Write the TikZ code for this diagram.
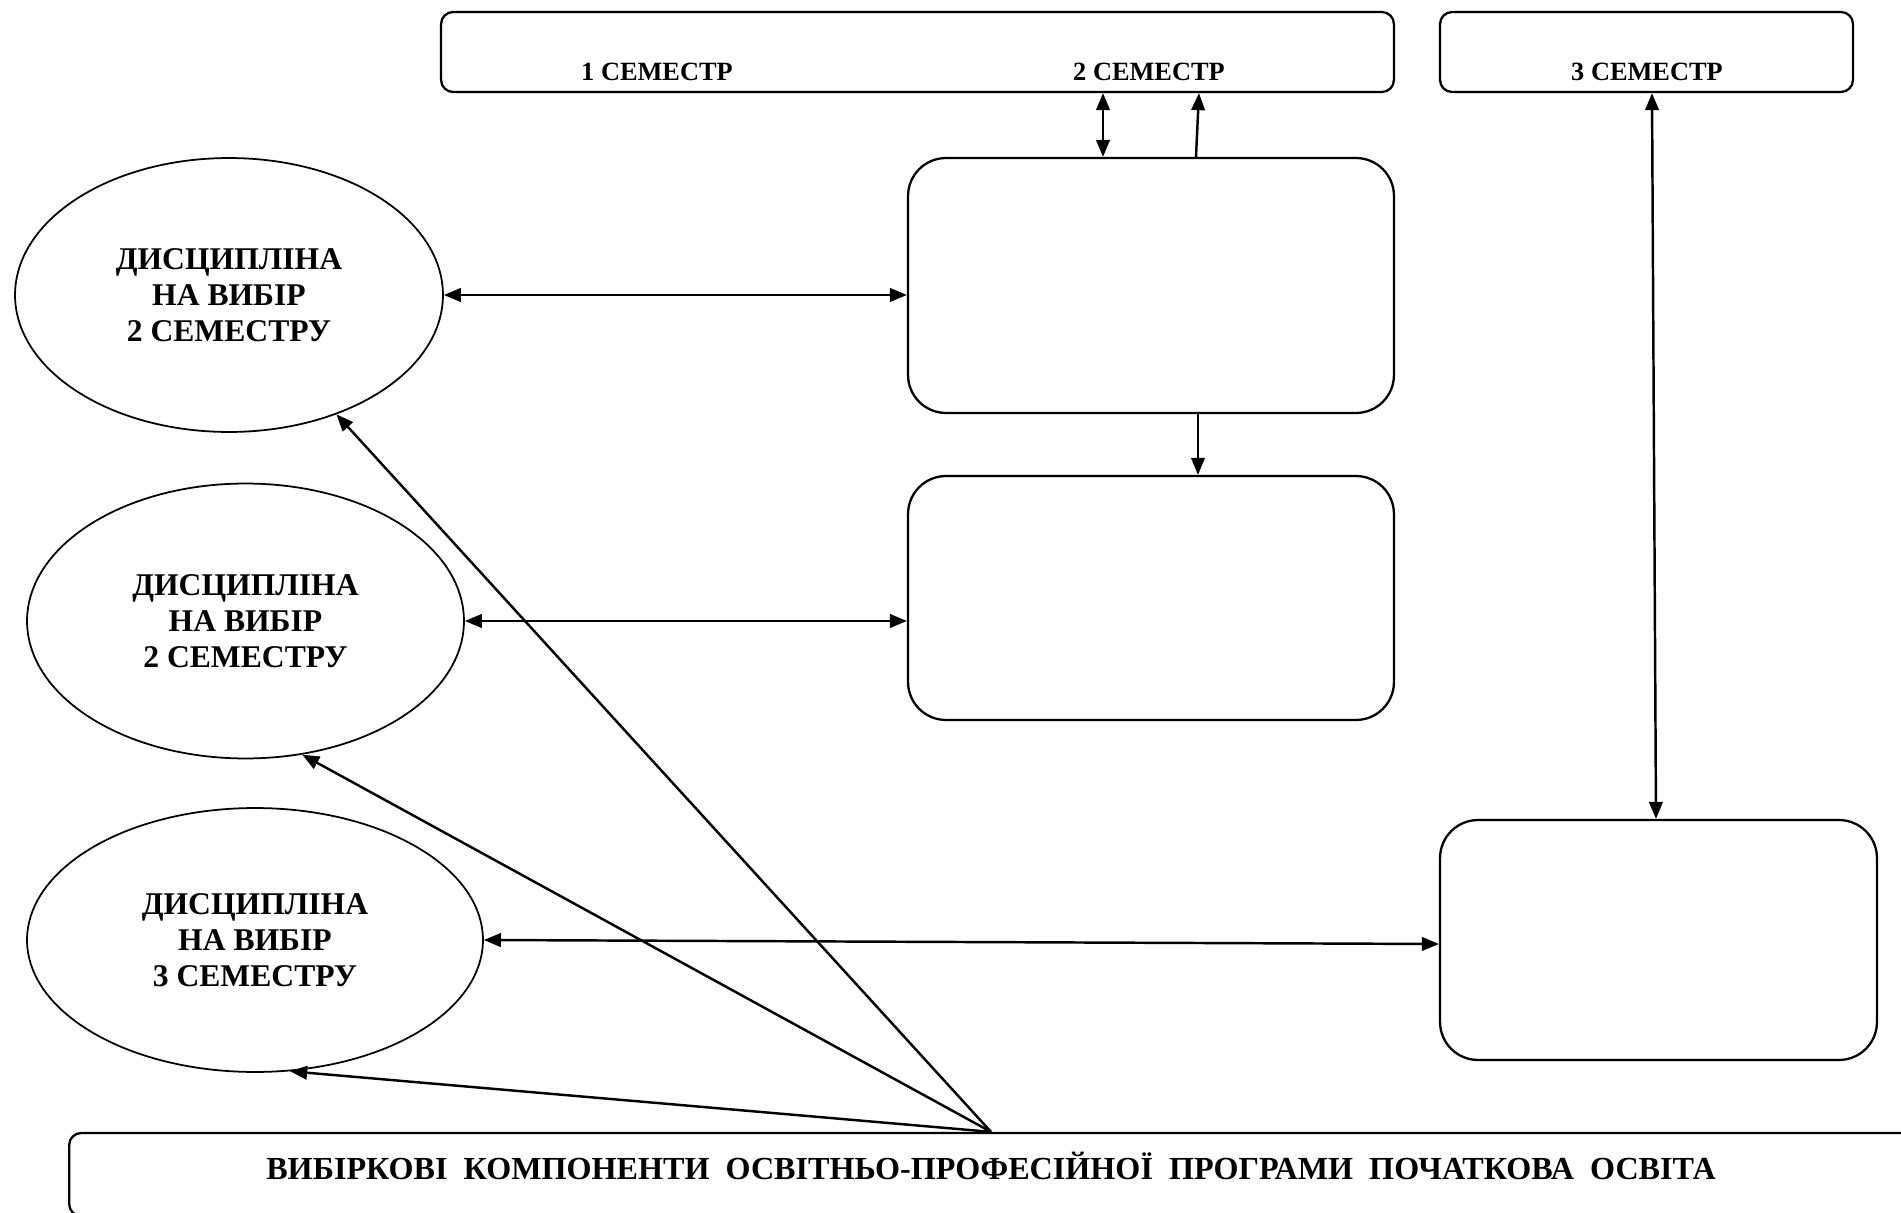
\documentclass[tikz,border=0pt]{standalone}
\usepackage{fontspec}
\setmainfont{Liberation Serif}
\usepackage{tikz}
\usetikzlibrary{shapes,arrows.meta}
\tikzstyle{sembox}=[draw, rounded corners=0.24cm, line width=1.3pt, inner sep=0pt]
\tikzstyle{emptybox}=[draw, rounded corners=0.76cm, line width=1.3pt, inner sep=0pt]
\tikzstyle{choice}=[draw, ellipse, line width=1pt, inner sep=0pt, align=center, font=\bfseries\fontsize{18}{20.5}\selectfont]
\tikzstyle{semlabel}=[inner sep=0pt, font=\bfseries\fontsize{15}{17}\selectfont]

\begin{document}
\begin{tikzpicture}[x=0.02cm, y=-0.02cm, line width=1.4pt, >={Triangle[length=0.34cm,width=0.27cm]}]
\useasboundingbox (0,0) rectangle (1901,1213);
\clip (0,0) rectangle (1901,1213);
% semesters
\node[sembox, minimum width=19.06cm, minimum height=1.6cm] (s12) at (917.5,52) {};
\node[sembox, minimum width=8.26cm, minimum height=1.6cm] (s3) at (1646.5,52) {};
\node[semlabel] (l1) at (657,72) {1 СЕМЕСТР};
\node[semlabel] (l2) at (1149,72) {2 СЕМЕСТР};
\node[semlabel] (l3) at (1647,72) {3 СЕМЕСТР};
% empty boxes
\node[emptybox, minimum width=9.72cm, minimum height=5.1cm] (c) at (1151,285.5) {};
\node[emptybox, minimum width=9.72cm, minimum height=4.88cm] (d) at (1151,598) {};
\node[emptybox, minimum width=8.74cm, minimum height=4.8cm] (e) at (1658.5,940) {};
% disciplines
\node[choice, minimum width=8.56cm, minimum height=5.48cm] (e1) at (229,295) {ДИСЦИПЛІНА\\НА ВИБІР\\2 СЕМЕСТРУ};
\node[choice, minimum width=8.74cm, minimum height=5.5cm] (e2) at (245.5,621) {ДИСЦИПЛІНА\\НА ВИБІР\\2 СЕМЕСТРУ};
\node[choice, minimum width=9.12cm, minimum height=5.28cm] (e3) at (255,940) {ДИСЦИПЛІНА\\НА ВИБІР\\3 СЕМЕСТРУ};
% components
\node[sembox, minimum width=36.88cm, minimum height=1.66cm] (f) at (991,1174.5) {};
\node[inner sep=0pt, font=\bfseries\fontsize{18.3}{22}\selectfont] (lf) at (991,1166) {ВИБІРКОВІ\ \ КОМПОНЕНТИ\ \ ОСВІТНЬО-ПРОФЕСІЙНОЇ\ \ ПРОГРАМИ\ \ ПОЧАТКОВА\ \ ОСВІТА};
\draw[<->] ([xshift=-0.96cm]c.north) -- ([xshift=-0.96cm]c.north |- s12.south);
\draw[->] ([xshift=0.9cm]c.north) -- ([xshift=5.63cm]s12.south);
\draw[->] ([xshift=0.94cm]c.south) -- ([xshift=0.94cm]d.north);
\draw[<->] ([xshift=0.11cm]s3.south) -- ([xshift=-0.05cm]e.north);
\draw[<->] (e1.east) -- (e1.east -| c.west);
\draw[<->] (e2.east) -- (e2.east -| d.west);
\draw[<->] (e3.east) -- ([yshift=-0.08cm]e.west);
\draw[->] (f.north) -- (e1.-48);
\draw[->] (f.north) -- (e2.-67);
\draw[->] (f.north) -- (e3.-75);
\end{tikzpicture}
\end{document}
